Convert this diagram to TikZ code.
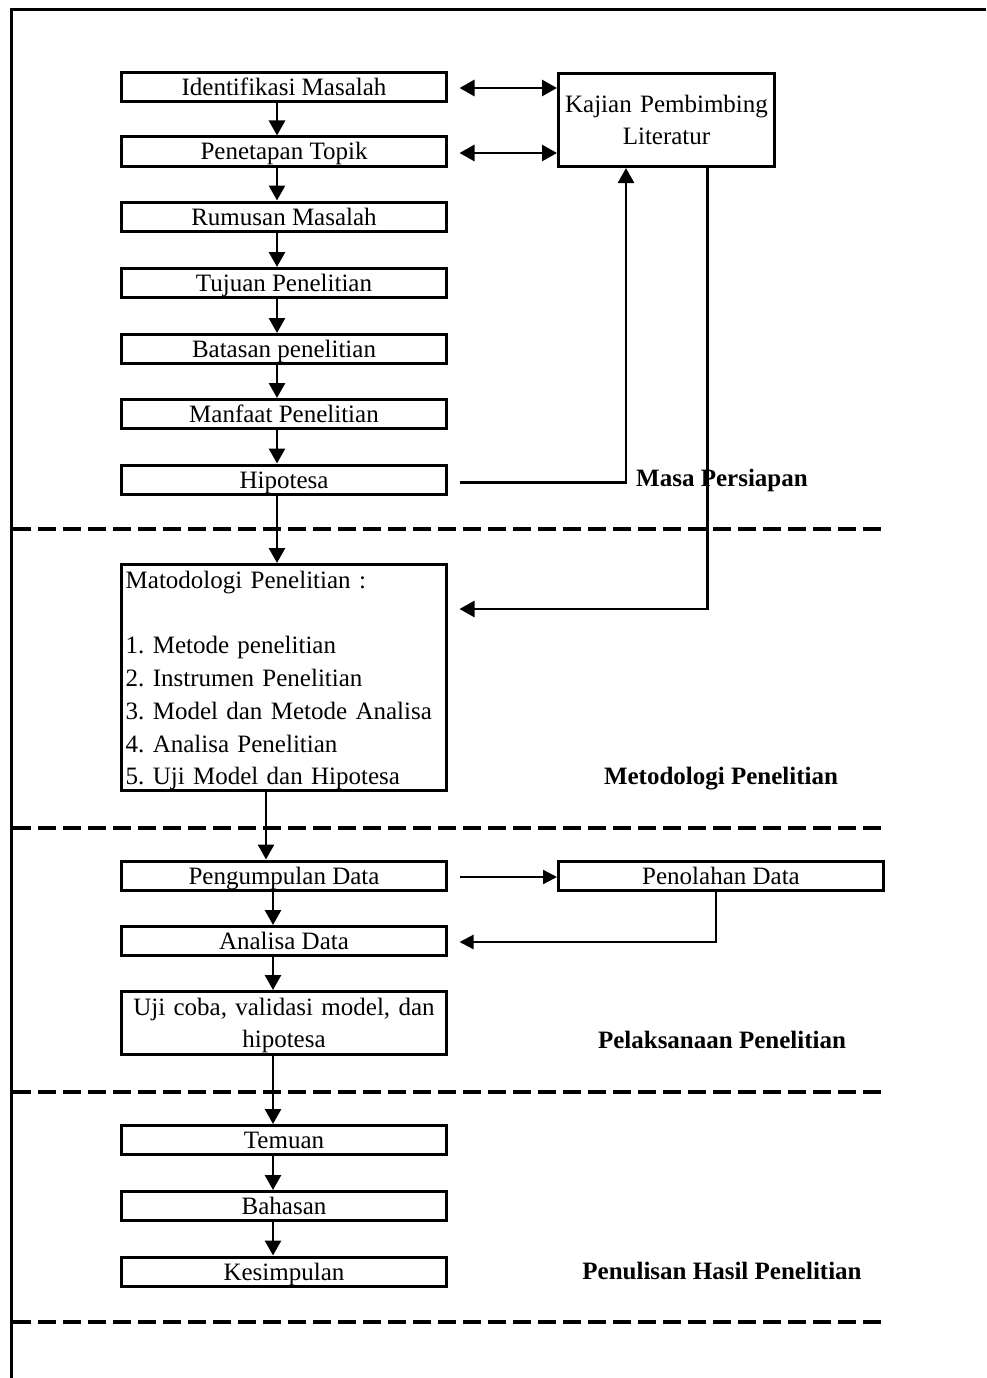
\documentclass[tikz,border=0pt]{standalone}
\usepackage{fontspec}
\setmainfont{Liberation Serif}
\usetikzlibrary{arrows.meta}
\frenchspacing
\begin{document}
\begin{tikzpicture}[x=1pt,y=-1pt,
  every node/.style={font=\fontsize{25}{32.8}\selectfont, inner sep=0pt},
  box/.style={draw, line width=3pt, fill=white, minimum width=325pt,
    minimum height=29pt, text height=17pt, text depth=0pt},
  arr/.style={line width=2.8pt, -{Triangle[width=16pt,length=15pt]}},
  dblarr/.style={line width=2.8pt,
    {Triangle[width=16pt,length=15pt]}-{Triangle[width=16pt,length=15pt]}},
  conn/.style={line width=2.5pt, -{Triangle[width=16pt,length=15pt]}},
  thinarr/.style={line width=2.2pt, -{Triangle[width=14pt,length=14pt]}},
  phasesep/.style={line width=4.5pt, dash pattern=on 18.3pt off 6.7pt},
  phase/.style={anchor=base, font=\fontsize{25}{30}\selectfont\bfseries}
]
\useasboundingbox (0,0) rectangle (986,1378);

% page frame (top and left rules)
\draw[line width=3pt] (986,9.7) -- (11.5,9.7) -- (11.5,1378);

% phase separators
\draw[phasesep] (13,529) -- (886,529);
\draw[phasesep] (13,828) -- (886,828);
\draw[phasesep] (13,1092) -- (886,1092);
\draw[phasesep] (13,1322) -- (886,1322);

% preparation steps
\node[box] (ident)  at (284,87)    {Identifikasi Masalah};
\node[box] (topik)  at (284,151.5) {Penetapan Topik};
\node[box] (rumus)  at (284,216.5) {Rumusan Masalah};
\node[box] (tujuan) at (284,283)   {Tujuan Penelitian};
\node[box] (batas)  at (284,349)   {Batasan penelitian};
\node[box] (manfaat) at (284,414)  {Manfaat Penelitian};
\node[box] (hipo)   at (284,479.5) {Hipotesa};

% supervision / literature
\node[box, minimum width=216pt, minimum height=93pt] (kajian) at (666.5,120) {};
\node[anchor=base, text width=216pt, align=center, font=\fontsize{25}{32}\selectfont]
  (kajiantxt) at (666.5,113) {Kajian Pembimbing\\Literatur};

% methodology
\node[box, minimum height=226pt] (metod) at (284,677.5) {};
\node[anchor=base west, text width=318pt, align=left] (metodtxt) at (125.5,588)
  {Matodologi Penelitian :\\[32.8pt]1. Metode penelitian\\2. Instrumen Penelitian\\3. Model dan Metode Analisa\\4. Analisa Penelitian\\5. Uji Model dan Hipotesa};

% execution
\node[box] (kumpul)  at (284,875.5) {Pengumpulan Data};
\node[box, minimum width=325pt] (olah) at (721,875.5) {Penolahan Data};
\node[box] (analisa) at (284,941)   {Analisa Data};
\node[box, minimum height=63pt] (uji) at (284,1023) {};
\node[anchor=base, text width=325pt, align=center] (ujitxt) at (284,1015)
  {Uji coba, validasi model, dan\\hipotesa};

% reporting
\node[box] (temuan) at (284,1140)   {Temuan};
\node[box] (bahas)  at (284,1206)   {Bahasan};
\node[box] (simpul) at (284,1271.5) {Kesimpulan};

% phase titles
\node[phase] (p1) at (722,486.5) {Masa Persiapan};
\node[phase] (p2) at (721,784)   {Metodologi Penelitian};
\node[phase] (p3) at (722,1048)  {Pelaksanaan Penelitian};
\node[phase] (p4) at (722,1279)  {Penulisan Hasil Penelitian};

% main flow
\draw[arr] ([xshift=-7pt]ident.south)   -- ([xshift=-7pt]topik.north);
\draw[arr] ([xshift=-7pt]topik.south)   -- ([xshift=-7pt]rumus.north);
\draw[arr] ([xshift=-7pt]rumus.south)   -- ([xshift=-7pt]tujuan.north);
\draw[arr] ([xshift=-7pt]tujuan.south)  -- ([xshift=-7pt]batas.north);
\draw[arr] ([xshift=-7pt]batas.south)   -- ([xshift=-7pt]manfaat.north);
\draw[arr] ([xshift=-7pt]manfaat.south) -- ([xshift=-7pt]hipo.north);
\draw[arr] ([xshift=-7pt]hipo.south)    -- ([xshift=-7pt]metod.north);
\draw[arr] ([xshift=-18pt]metod.south)  -- ([xshift=-18pt]kumpul.north);
\draw[arr] ([xshift=-11pt]kumpul.south) -- ([xshift=-11pt]analisa.north);
\draw[arr] ([xshift=-11pt]analisa.south) -- ([xshift=-11pt]uji.north);
\draw[arr] ([xshift=-11pt]uji.south)    -- ([xshift=-11pt]temuan.north);
\draw[arr] ([xshift=-11pt]temuan.south) -- ([xshift=-11pt]bahas.north);
\draw[arr] ([xshift=-11pt]bahas.south)  -- ([xshift=-11pt]simpul.north);

% literature links
\draw[dblarr] ([xshift=11.5pt,yshift=-1pt]ident.east) -- ([yshift=-1pt]ident.east -| kajian.west);
\draw[dblarr] ([xshift=11.5pt,yshift=-1.5pt]topik.east) -- ([yshift=-1.5pt]topik.east -| kajian.west);
\draw[conn] ([xshift=11.5pt,yshift=-3pt]hipo.east) -| ([xshift=-40.5pt]kajian.south);
\draw[conn] ([xshift=41pt]kajian.south) |- ([xshift=11.5pt,yshift=68.5pt]metod.east);

% data processing loop
\draw[thinarr] ([xshift=11.5pt,yshift=-1.5pt]kumpul.east) -- ([yshift=-1.5pt]olah.west);
\draw[thinarr] ([xshift=-5pt]olah.south) |- ([xshift=11.5pt,yshift=-1pt]analisa.east);
\end{tikzpicture}
\end{document}
